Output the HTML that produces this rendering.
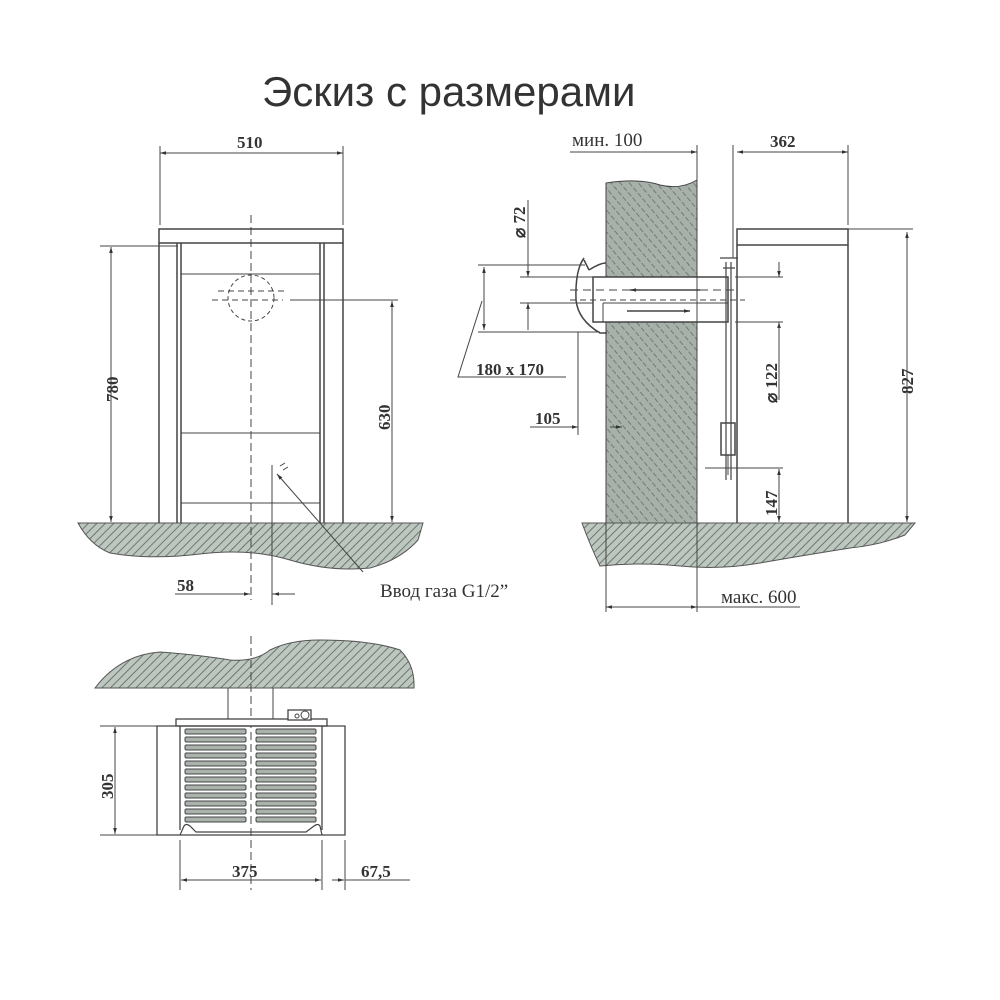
<!DOCTYPE html>
<html><head><meta charset="utf-8"><style>
html,body{margin:0;padding:0;background:#fff;}
svg{display:block}
text{font-family:"Liberation Serif",serif;font-weight:bold;fill:#333;}
</style></head><body>
<svg width="1000" height="1000" viewBox="0 0 1000 1000" xmlns="http://www.w3.org/2000/svg">
<defs>
<pattern id="h" width="6" height="6" patternUnits="userSpaceOnUse" patternTransform="rotate(45)">
<rect width="6" height="6" fill="#bdc7bf"/>
<line x1="0" y1="0" x2="0" y2="6" stroke="#6a786f" stroke-width="2"/>
</pattern>
<pattern id="w" width="7" height="7" patternUnits="userSpaceOnUse" patternTransform="rotate(-40)">
<rect width="7" height="7" fill="#a7b1aa"/>
<line x1="0" y1="0" x2="0" y2="7" stroke="#6f7c73" stroke-width="2" stroke-dasharray="3 2"/>
</pattern>
<marker id="a" viewBox="0 0 10 10" refX="10" refY="5" markerWidth="9" markerHeight="6" orient="auto-start-reverse" markerUnits="userSpaceOnUse"><path d="M0,2L10,5L0,8z" fill="#333"/></marker>
</defs>
<text x="262" y="106" style="font-family:'Liberation Sans',sans-serif;font-weight:normal;font-size:42px" fill="#222">Эскиз с размерами</text>

<g stroke="#444" stroke-width="1" fill="none">
<path d="M78,523 L423,523 L418,540 Q400,560 370,568 Q330,572 290,560 Q250,548 200,554 Q150,560 110,553 Q90,545 78,523Z" fill="url(#h)" stroke="#555"/>
<rect x="159" y="229" width="184" height="14" stroke-width="1.5"/>
<path d="M159,243V523M343,243V523M177,243V523M181,243V523M320,243V523M324,243V523" stroke-width="1.5"/>
<path d="M181,274H320M181,433H320M181,503H320"/>
<path d="M251,215V600" stroke-dasharray="8 4"/>
<circle cx="251" cy="298" r="23" stroke-dasharray="4 3"/>
<path d="M218,291H285M212,300H283" stroke-dasharray="6 4"/>
<path d="M290,300H398M100,246H178"/>
<path d="M160,225V146M343,225V146"/>
<line x1="160" y1="153" x2="343" y2="153" marker-start="url(#a)" marker-end="url(#a)"/>
<line x1="111" y1="247" x2="111" y2="522" marker-start="url(#a)" marker-end="url(#a)"/>
<line x1="392" y1="301" x2="392" y2="522" marker-start="url(#a)" marker-end="url(#a)"/>
<path d="M272,465V605"/>
<path d="M175,594H240M272,594H295"/>
<path d="M228,594H250" marker-end="url(#a)"/>
<path d="M295,594H273" marker-end="url(#a)"/>
<line x1="363" y1="572" x2="277" y2="474" marker-end="url(#a)"/>
<path d="M280,466l5,-3M283,470l5,-3"/>

<path d="M606,523V183 Q640,178 660,185 Q680,190 697,180 V523Z" fill="url(#w)" stroke="#444"/>
<path d="M582,523 L915,523 L905,535 Q880,545 850,548 Q800,556 760,563 Q720,570 680,566 Q640,562 600,566 Q590,545 582,523Z" fill="url(#h)" stroke="#555"/>
<rect x="737" y="229" width="111" height="16" stroke-width="1.5"/>
<path d="M737,245V523M848,245V523" stroke-width="1.5"/>
<path d="M741,245H845"/>
<rect x="593" y="277" width="135" height="45" fill="#fff" stroke-width="1.5"/>
<path d="M603,303H728M603,303V322"/>
<path d="M570,290H735" stroke-dasharray="8 5"/>
<path d="M570,300H745" stroke-dasharray="6 4"/>
<line x1="700" y1="290" x2="630" y2="290" marker-end="url(#a)" stroke-width="1.5"/>
<line x1="627" y1="311" x2="690" y2="311" marker-end="url(#a)" stroke-width="1.5"/>
<path d="M584,258 Q575,270 576,300 Q578,320 600,333 L607,333 M589,270 Q600,263 606,263 M584,260 L589,270" stroke-width="1.5"/>
<path d="M726,262V480M731,262V480M723,268H735M720,258H738" stroke-width="1.2"/>
<rect x="721" y="423" width="14" height="32" stroke-width="1.5"/>
<path d="M728,455V475"/>
<path d="M697,145V612M733,145V258M848,145V225M606,523V612"/>
<line x1="570" y1="152" x2="697" y2="152" marker-end="url(#a)"/>
<line x1="737" y1="152" x2="848" y2="152" marker-start="url(#a)" marker-end="url(#a)"/>
<line x1="606" y1="607" x2="697" y2="607" marker-start="url(#a)" marker-end="url(#a)"/>
<path d="M697,607H800"/>
<path d="M478,265H585M478,332H600M520,277H593M520,303H593"/>
<path d="M528,200V262M528,318V330"/>
<line x1="528" y1="262" x2="528" y2="277" marker-end="url(#a)"/>
<line x1="528" y1="318" x2="528" y2="303" marker-end="url(#a)"/>
<line x1="484" y1="267" x2="484" y2="330" marker-start="url(#a)" marker-end="url(#a)"/>
<path d="M482,301 L458,377 H566"/>
<path d="M578,332V435"/>
<path d="M530,427H578"/>
<line x1="565" y1="427" x2="578" y2="427" marker-end="url(#a)"/>
<line x1="610" y1="427" x2="622" y2="427" marker-end="url(#a)"/>
<path d="M735,277H783M735,322H783M705,468H783M848,229H913"/>
<line x1="779" y1="262" x2="779" y2="277" marker-end="url(#a)"/>
<line x1="779" y1="337" x2="779" y2="322" marker-end="url(#a)"/>
<path d="M779,322V400"/>
<line x1="907" y1="232" x2="907" y2="522" marker-start="url(#a)" marker-end="url(#a)"/>
<line x1="779" y1="469" x2="779" y2="522" marker-start="url(#a)" marker-end="url(#a)"/>

<path d="M95,688 Q120,655 160,652 Q200,655 230,660 Q255,662 270,650 Q290,640 320,640 Q370,640 400,650 Q415,665 414,688Z" fill="url(#h)" stroke="#555"/>
<path d="M228,688V720M273,688V720"/>
<path d="M251,636V890" stroke-dasharray="8 4"/>
<rect x="176" y="719" width="151" height="7" fill="#fff" stroke-width="1.3"/>
<rect x="288" y="710" width="23" height="10" fill="#fff" stroke-width="1.3"/>
<circle cx="297" cy="716" r="2"/><circle cx="305" cy="715" r="4"/>
<path d="M157,726H345V835H157Z M180,726V830 M322,726V830" stroke-width="1.3"/>
<path d="M180,835 L184,826 Q186,823 190,826 L196,832 H306 L314,826 Q318,823 320,826 L322,835" stroke-width="1.2"/>
<path d="M100,726H157M100,835H157M180,840V890M322,840V890M345,840V890"/>
<line x1="115" y1="727" x2="115" y2="834" marker-start="url(#a)" marker-end="url(#a)"/>
<line x1="181" y1="880" x2="321" y2="880" marker-start="url(#a)" marker-end="url(#a)"/>
<path d="M345,880H410"/>
<line x1="332" y1="880" x2="344" y2="880" marker-end="url(#a)"/>
</g>
<g fill="#aab2ac" stroke="#444" stroke-width="1">
<rect x="185" y="729" width="61" height="5" rx="1.5"/><rect x="256" y="729" width="60" height="5" rx="1.5"/>
<rect x="185" y="737" width="61" height="5" rx="1.5"/><rect x="256" y="737" width="60" height="5" rx="1.5"/>
<rect x="185" y="745" width="61" height="5" rx="1.5"/><rect x="256" y="745" width="60" height="5" rx="1.5"/>
<rect x="185" y="753" width="61" height="5" rx="1.5"/><rect x="256" y="753" width="60" height="5" rx="1.5"/>
<rect x="185" y="761" width="61" height="5" rx="1.5"/><rect x="256" y="761" width="60" height="5" rx="1.5"/>
<rect x="185" y="769" width="61" height="5" rx="1.5"/><rect x="256" y="769" width="60" height="5" rx="1.5"/>
<rect x="185" y="777" width="61" height="5" rx="1.5"/><rect x="256" y="777" width="60" height="5" rx="1.5"/>
<rect x="185" y="785" width="61" height="5" rx="1.5"/><rect x="256" y="785" width="60" height="5" rx="1.5"/>
<rect x="185" y="793" width="61" height="5" rx="1.5"/><rect x="256" y="793" width="60" height="5" rx="1.5"/>
<rect x="185" y="801" width="61" height="5" rx="1.5"/><rect x="256" y="801" width="60" height="5" rx="1.5"/>
<rect x="185" y="809" width="61" height="5" rx="1.5"/><rect x="256" y="809" width="60" height="5" rx="1.5"/>
<rect x="185" y="817" width="61" height="5" rx="1.5"/><rect x="256" y="817" width="60" height="5" rx="1.5"/>
</g>
<g font-size="17">
<text x="237" y="148">510</text>
<text transform="translate(118,402) rotate(-90)">780</text>
<text transform="translate(390,430) rotate(-90)">630</text>
<text x="177" y="591">58</text>
<text x="380" y="597" style="font-weight:normal;font-size:19px">Ввод газа G1/2”</text>
<text x="572" y="146" style="font-weight:normal;font-size:19px">мин. 100</text>
<text x="770" y="147">362</text>
<text transform="translate(525,238) rotate(-90)">⌀ 72</text>
<text x="476" y="375">180 x 170</text>
<text x="535" y="424">105</text>
<text transform="translate(777,403) rotate(-90)">⌀ 122</text>
<text transform="translate(913,394) rotate(-90)">827</text>
<text transform="translate(777,516) rotate(-90)">147</text>
<text x="721" y="603" style="font-weight:normal;font-size:19px">макс. 600</text>
<text transform="translate(113,799) rotate(-90)">305</text>
<text x="232" y="877">375</text>
<text x="361" y="877">67,5</text>
</g>
</svg>
</body></html>
